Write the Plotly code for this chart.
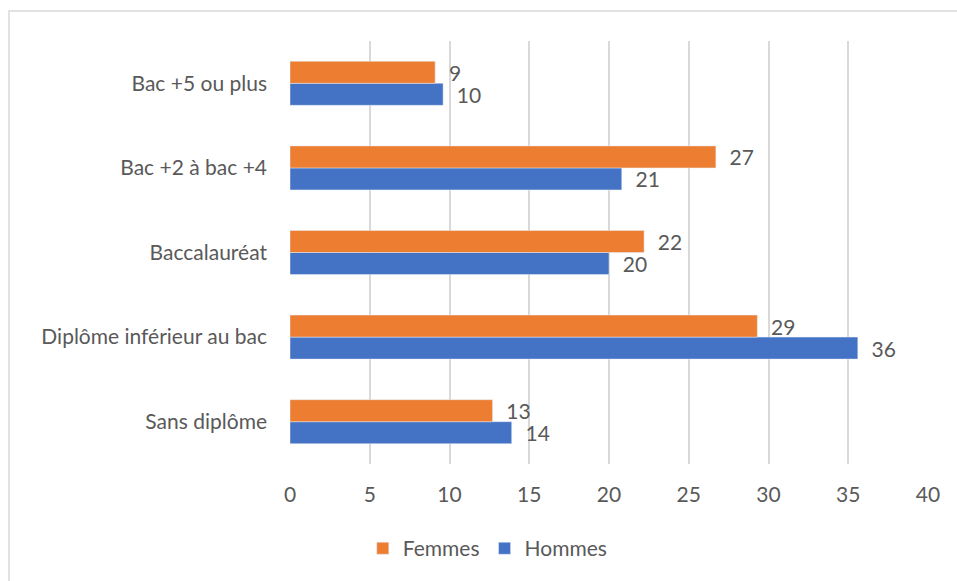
import plotly.graph_objects as go

categories = ["Sans diplôme", "Diplôme inférieur au bac", "Baccalauréat",
              "Bac +2 à bac +4", "Bac +5 ou plus"]
femmes = [12.7, 29.3, 22.2, 26.7, 9.1]
hommes = [13.9, 35.6, 20.0, 20.8, 9.6]
femmes_labels = ["13", "29", "22", "27", "9"]
hommes_labels = ["14", "36", "20", "21", "10"]
x_ticks = [0, 5, 10, 15, 20, 25, 30, 35, 40]

FONT = "Lato"
GREY = "#595959"
NB = "\u00a0\u00a0"

fig = go.Figure()
fig.add_trace(go.Bar(
    name="Hommes", y=categories, x=hommes, orientation="h",
    marker=dict(color="#4472C4"),
    text=[NB + t for t in hommes_labels], textposition="outside",
    textfont=dict(family=FONT, size=21, color=GREY), cliponaxis=False,
))
fig.add_trace(go.Bar(
    name="Femmes", y=categories, x=femmes, orientation="h",
    marker=dict(color="#ED7D31"),
    text=[NB + t for t in femmes_labels], textposition="outside",
    textfont=dict(family=FONT, size=21, color=GREY), cliponaxis=False,
))

fig.update_layout(
    width=957, height=581,
    margin=dict(l=290, r=29, t=41, b=117),
    paper_bgcolor="white", plot_bgcolor="white",
    barmode="group", bargap=0.48, bargroupgap=0,
    font=dict(family=FONT, size=21, color=GREY),
    showlegend=True,
    legend=dict(orientation="h", traceorder="reversed",
                x=0.31, xanchor="center", y=-0.20, yanchor="middle",
                font=dict(family=FONT, size=21, color=GREY)),
    xaxis=dict(range=[0, 40], tickvals=x_ticks, showgrid=True,
               gridcolor="#D9D9D9", gridwidth=1.5, zeroline=False,
               showline=False, ticks="", ticklabelstandoff=16),
    yaxis=dict(categoryorder="array", categoryarray=categories,
               showgrid=False, zeroline=False, showline=False, ticks="",
               ticklabelstandoff=22),
    shapes=[dict(type="path", xref="paper", yref="paper",
                 path="M -0.4404,-0.5 L -0.4404,1.0709 L 1.2,1.0709",
                 line=dict(color="#D9D9D9", width=1.5), layer="below")],
)
fig.update_traces(textangle=0, constraintext="none")

fig.write_html(
    "out.html",
    config={"displayModeBar": False},
    post_script=("document.body.style.margin='0';"
                 "document.body.style.overflow='hidden';"
                 "document.documentElement.style.overflow='hidden';"),
)
